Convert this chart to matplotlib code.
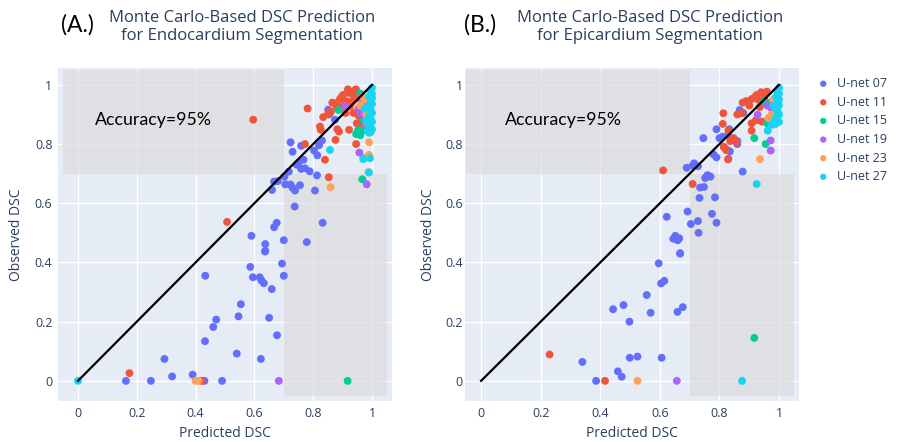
import matplotlib
matplotlib.use('Agg')
import matplotlib.pyplot as plt
from matplotlib.patches import Rectangle

# ---- data ----
series_names = ['U-net 07', 'U-net 11', 'U-net 15', 'U-net 19', 'U-net 23', 'U-net 27']
colors = ['#636EFA', '#EF553B', '#00CC96', '#AB63FA', '#FFA15A', '#19D3F3']

# (A.) endocardium
endo_x_07 = [0.163, 0.248, 0.294, 0.32, 0.39, 0.43, 0.49, 0.432, 0.433, 0.46, 0.47, 0.54, 0.546, 0.554,
             0.586, 0.595, 0.618, 0.624, 0.632, 0.622, 0.636, 0.65, 0.659, 0.677, 0.694, 0.70,
             0.59, 0.637, 0.637, 0.667, 0.676, 0.70, 0.778, 0.832, 0.737, 0.66, 0.667, 0.68, 0.702,
             0.705, 0.717, 0.723, 0.73, 0.738, 0.755, 0.744, 0.759, 0.772, 0.788, 0.767, 0.75, 0.723,
             0.73, 0.759, 0.803, 0.814, 0.82, 0.83, 0.806, 0.813, 0.851, 0.854, 0.874]
endo_y_07 = [0.0, 0.0, 0.074, 0.015, 0.021, 0.0, 0.0, 0.134, 0.355, 0.182, 0.207, 0.092, 0.218, 0.259,
             0.385, 0.35, 0.35, 0.339, 0.33, 0.074, 0.437, 0.213, 0.31, 0.154, 0.396, 0.355,
             0.49, 0.462, 0.439, 0.519, 0.534, 0.475, 0.469, 0.534, 0.589, 0.645, 0.673, 0.675, 0.69,
             0.664, 0.707, 0.663, 0.652, 0.643, 0.661, 0.73, 0.716, 0.718, 0.708, 0.747, 0.737, 0.806,
             0.774, 0.794, 0.778, 0.762, 0.796, 0.812, 0.643, 0.694, 0.916, 0.90, 0.882]
endo_x_11 = [0.175, 0.42, 0.507, 0.596, 0.772, 0.84, 0.853, 0.781, 0.823, 0.826, 0.834, 0.851, 0.876,
             0.882, 0.888, 0.922, 0.946, 0.948, 0.874, 0.891, 0.902, 0.925, 0.937, 0.914, 0.937, 0.88,
             0.857, 0.954, 0.96, 0.97, 0.86, 0.96, 0.925, 0.91, 0.937, 0.95, 0.945, 0.897, 0.918,
             0.905, 0.93, 0.89, 0.865, 0.955, 0.94]
endo_y_11 = [0.026, 0.0, 0.537, 0.882, 0.80, 0.747, 0.688, 0.92, 0.859, 0.848, 0.891, 0.905, 0.814,
             0.85, 0.842, 0.848, 0.80, 0.87, 0.938, 0.952, 0.966, 0.972, 0.978, 0.944, 0.949, 0.927,
             0.904, 0.92, 0.87, 0.876, 0.91, 0.97, 0.927, 0.905, 0.905, 0.955, 0.985, 0.96, 0.985,
             0.93, 0.94, 0.925, 0.94, 0.895, 0.96]
endo_x_15 = [0.917, 0.886, 0.946, 0.953, 0.96, 0.967, 0.96, 0.97, 0.969, 0.972, 0.975, 0.98]
endo_y_15 = [0.0, 0.915, 0.834, 0.847, 0.83, 0.681, 0.97, 0.877, 0.845, 0.752, 0.95, 0.93]
endo_x_19 = [0.683, 0.957, 0.982, 0.91, 0.955, 0.96, 0.976, 0.98, 0.97, 0.965]
endo_y_19 = [0.0, 0.771, 0.664, 0.927, 0.918, 0.905, 0.885, 0.866, 0.94, 0.96]
endo_x_23 = [0.40, 0.41, 0.859, 0.99, 0.99, 0.988, 0.96, 0.975, 0.98, 0.985, 0.99, 0.97]
endo_y_23 = [0.0, 0.0, 0.654, 0.806, 0.763, 0.705, 0.93, 0.95, 0.90, 0.87, 0.85, 0.96]
endo_x_27 = [0.0, 0.857, 0.993, 0.97, 0.99, 1.0, 0.995, 1.0, 0.99, 1.0, 0.995, 1.0, 0.99, 0.995, 1.0,
             0.99, 0.995, 1.0, 0.99, 0.995, 0.985, 0.99, 0.98, 0.975, 1.0, 0.995]
endo_y_27 = [0.0, 0.78, 0.752, 0.749, 0.704, 0.99, 0.98, 0.97, 0.96, 0.955, 0.945, 0.935, 0.925, 0.915,
             0.905, 0.895, 0.885, 0.875, 0.865, 0.855, 0.845, 0.838, 0.88, 0.92, 0.85, 0.84]

# (B.) epicardium
epi_x_07 = [0.34, 0.386, 0.459, 0.472, 0.499, 0.525, 0.606, 0.443, 0.478, 0.498, 0.556, 0.569, 0.596,
            0.604, 0.615, 0.659, 0.677, 0.668, 0.623, 0.645, 0.652, 0.665, 0.66, 0.668, 0.693, 0.704,
            0.728, 0.73, 0.775, 0.79, 0.785, 0.733, 0.735, 0.748, 0.752, 0.76, 0.756, 0.77, 0.69,
            0.71, 0.728, 0.715, 0.746, 0.79, 0.80, 0.81, 0.833, 0.83, 0.815, 0.826, 0.835, 0.78,
            0.79, 0.83, 0.86, 0.86, 0.878, 0.87, 0.88, 0.868]
epi_y_07 = [0.064, 0.0, 0.032, 0.014, 0.078, 0.082, 0.078, 0.242, 0.256, 0.20, 0.29, 0.23, 0.397,
            0.329, 0.338, 0.233, 0.249, 0.43, 0.554, 0.48, 0.49, 0.482, 0.475, 0.431, 0.572, 0.53,
            0.54, 0.50, 0.564, 0.534, 0.62, 0.618, 0.653, 0.655, 0.685, 0.695, 0.69, 0.69, 0.72,
            0.727, 0.725, 0.735, 0.82, 0.85, 0.82, 0.825, 0.85, 0.83, 0.79, 0.78, 0.775, 0.765,
            0.755, 0.75, 0.80, 0.81, 0.707, 0.905, 0.905, 0.915]
epi_x_11 = [0.23, 0.416, 0.611, 0.71, 0.813, 0.811, 0.83, 0.815, 0.822, 0.836, 0.848, 0.829, 0.857,
            0.86, 0.875, 0.878, 0.89, 0.908, 0.925, 0.94, 0.959, 0.92, 0.93, 0.945, 0.908, 0.908,
            0.922, 0.942, 0.97, 0.9, 0.95, 0.935]
epi_y_11 = [0.089, 0.0, 0.711, 0.665, 0.904, 0.868, 0.846, 0.79, 0.78, 0.81, 0.82, 0.748, 0.805,
            0.90, 0.905, 0.94, 0.945, 0.952, 0.966, 0.975, 0.977, 0.96, 0.95, 0.94, 0.845, 0.87,
            0.88, 0.876, 0.89, 0.93, 0.955, 0.925]
epi_x_15 = [0.917, 0.917, 0.955, 0.96, 0.95, 0.97, 0.985]
epi_y_15 = [0.145, 0.82, 0.80, 0.87, 0.944, 0.94, 0.95]
epi_x_19 = [0.657, 0.928, 0.972, 0.972, 0.96, 0.975, 0.98, 0.985]
epi_y_19 = [0.0, 0.899, 0.812, 0.778, 0.93, 0.92, 0.90, 0.94]
epi_x_23 = [0.525, 0.936, 0.964, 0.975, 0.986, 0.98]
epi_y_23 = [0.0, 0.749, 0.888, 0.90, 0.866, 0.95]
epi_x_27 = [0.876, 0.925, 0.962, 0.975, 0.99, 1.0, 0.995, 1.0, 0.99, 1.0, 0.995, 1.0, 0.99, 0.995,
            1.0, 0.99, 0.985, 1.0, 0.98]
epi_y_27 = [0.0, 0.665, 0.845, 0.865, 0.87, 0.99, 0.98, 0.97, 0.96, 0.95, 0.94, 0.93, 0.92, 0.91,
            0.90, 0.89, 0.88, 0.875, 0.93]

diag = [0, 1]
ticks = [0, 0.2, 0.4, 0.6, 0.8, 1.0]
tick_labels = ['0', '0.2', '0.4', '0.6', '0.8', '1']

title_col = '#2a3f5f'
bg = '#E5ECF6'


def draw_panel(ax, xs, ys, xlim, ypad, ylabelpad):
    ax.set_facecolor(bg)
    ax.set_xlim(*xlim)
    ax.set_ylim(-0.068, 1.057)
    ax.set_xticks(ticks)
    ax.set_xticklabels(tick_labels)
    ax.set_yticks(ticks)
    ax.set_yticklabels(tick_labels)
    ax.tick_params(length=0, labelsize=9, labelcolor=title_col)
    ax.tick_params(axis='x', pad=4)
    ax.tick_params(axis='y', pad=ypad)
    for s in ax.spines.values():
        s.set_visible(False)
    ax.grid(True, color='white', lw=1.0)
    ax.set_axisbelow(True)

    # shaded quadrants
    ax.add_patch(Rectangle((-0.05, 0.7), 0.75, 0.35, facecolor='#DCDCDC', alpha=0.7,
                           edgecolor='none', zorder=1))
    ax.add_patch(Rectangle((0.7, -0.05), 0.35, 0.75, facecolor='#DCDCDC', alpha=0.7,
                           edgecolor='none', zorder=1))

    for x, y, c, name in zip(xs, ys, colors, series_names):
        ax.scatter(x, y, s=32, color=c, edgecolors='none', zorder=3, label=name)
    ax.plot(diag, diag, color='black', lw=1.6, zorder=4)

    ax.set_xlabel('Predicted DSC', fontsize=10, color=title_col, labelpad=5)
    ax.set_ylabel('Observed DSC', fontsize=10, color=title_col, labelpad=ylabelpad)


plt.rcParams['font.family'] = ['Open Sans', 'DejaVu Sans']
fig = plt.figure(figsize=(9, 4.42), dpi=100)

axA = fig.add_axes([58 / 900, 0.0928, 334 / 900, 0.7534])
draw_panel(axA,
           [endo_x_07, endo_x_11, endo_x_15, endo_x_19, endo_x_23, endo_x_27],
           [endo_y_07, endo_y_11, endo_y_15, endo_y_19, endo_y_23, endo_y_27],
           (-0.068, 1.068), 4, 7.5)
axA.text(0.058, 0.882, 'Accuracy=95%', fontsize=12.8, family='Lato', color='black',
         va='center', ha='left', zorder=5)

axB = fig.add_axes([465 / 900, 0.0928, 334 / 900, 0.7534])
draw_panel(axB,
           [epi_x_07, epi_x_11, epi_x_15, epi_x_19, epi_x_23, epi_x_27],
           [epi_y_07, epi_y_11, epi_y_15, epi_y_19, epi_y_23, epi_y_27],
           (-0.054, 1.067), 1.5, 7)
axB.text(0.08, 0.882, 'Accuracy=95%', fontsize=12.8, family='Lato', color='black',
         va='center', ha='left', zorder=5)

# titles
fig.text(242 / 900, 1 - 27 / 442, 'Monte Carlo-Based DSC Prediction\nfor Endocardium Segmentation',
         ha='center', va='center', fontsize=12, color=title_col, linespacing=1.25)
fig.text(650 / 900, 1 - 27 / 442, 'Monte Carlo-Based DSC Prediction\nfor Epicardium Segmentation',
         ha='center', va='center', fontsize=12, color=title_col, linespacing=1.25)
fig.text(61 / 900, 1 - 25 / 442, '(A.)', ha='left', va='center', fontsize=16.5, family='Lato',
         color='black')
fig.text(464 / 900, 1 - 25 / 442, '(B.)', ha='left', va='center', fontsize=16.5, family='Lato',
         color='black')

handles, labels = axA.get_legend_handles_labels()
fig.legend(handles, labels, loc='upper left', bbox_to_anchor=(812 / 900, 1 - 72 / 442),
           frameon=False, fontsize=9, labelcolor=title_col, handletextpad=0.6,
           handlelength=1.0, labelspacing=0.45, markerscale=0.8, borderaxespad=0)

fig.savefig('out.png', dpi=100)
